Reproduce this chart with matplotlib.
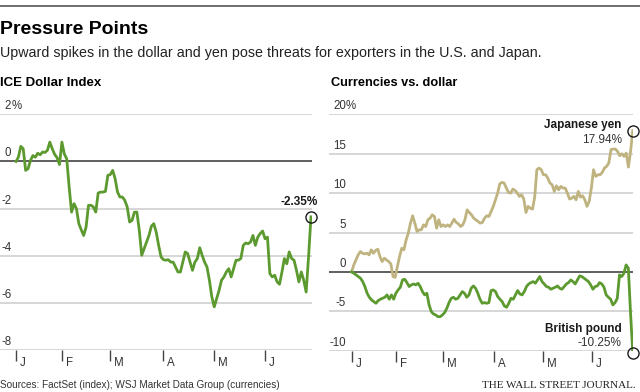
import matplotlib
matplotlib.use("Agg")
import matplotlib.pyplot as plt
import matplotlib.transforms as mtransforms
from matplotlib.lines import Line2D
import numpy as np

plt.rcParams['font.family'] = ['Liberation Sans', 'DejaVu Sans']

# month markers, as trading-day index from the start of the year
month_labels = ['J', 'F', 'M', 'A', 'M', 'J']
month_starts = [0, 19, 39, 61, 82, 103]

# ICE Dollar Index, % change since Jan 1
dollar_index = [
    0, 0.18, 0.64, 0.54, -0.38, -0.31, 0.04, 0.25, 0.18, 0.35, 0.28, 0.40, 0.38, 0.47,
    0.82, 0.54, 0.30, 0.16, -0.13, 0.82, 0.32, 0.11, -1.09, -2.15, -1.79, -2.0, -2.64,
    -2.9, -3.14, -2.78, -1.86, -1.86, -1.93, -2.15, -1.34, -1.30, -1.30, -1.27, -0.59,
    -0.56, -0.38, -0.73, -1.30, -1.51, -1.51, -1.65, -1.93, -2.57, -2.5, -2.15, -2.15,
    -2.92, -3.98, -3.70, -3.42, -3.14, -2.75, -2.64, -3.0, -3.56, -4.05, -4.17, -4.19,
    -4.17, -4.27, -4.27, -4.48, -4.69, -4.69, -4.27, -3.84, -3.91, -4.27, -4.62, -4.27,
    -4.12, -3.66, -3.98, -4.27, -4.48, -5.04, -5.75, -6.17, -5.82, -5.47, -5.04, -4.9,
    -4.69, -4.55, -4.9, -4.55, -4.19, -4.19, -4.12, -3.56, -3.46, -3.49, -3.42, -3.14,
    -3.56, -3.21, -3.06, -2.95, -3.28, -3.21, -4.76, -4.9, -4.83, -5.11, -5.21, -4.69,
    -4.12, -4.34, -3.84, -4.12, -4.19, -4.62, -5.11, -4.69, -5.04, -5.54, -4.05, -2.35,
]

# currencies vs. dollar, % change since Jan 1
yen = [
    0, 0.89, 1.53, 2.16, 2.58, 2.37, 2.29, 2.37, 2.16, 2.8, 2.37, 2.71, 2.88, 1.95, 1.31,
    1.74, 1.53, 1.31, 1.02, -0.59, -0.68, 0.68, 1.95, 3.0, 2.8, 4.07, 4.9, 6.19, 7.12,
    6.19, 5.13, 5.34, 5.34, 5.97, 5.76, 6.61, 6.82, 7.25, 7.03, 5.55, 6.61, 5.76, 5.97,
    5.76, 5.97, 5.76, 6.19, 6.69, 6.27, 6.1, 5.76, 5.97, 6.61, 7.88, 7.54, 7.25, 6.82,
    6.61, 6.4, 6.19, 6.27, 6.82, 7.12, 7.03, 7.67, 8.31, 9.15, 10.0, 11.19, 11.36, 11.27,
    10.64, 10.08, 10.0, 10.51, 10.34, 10.0, 9.58, 9.79, 9.24, 7.54, 8.31, 8.09, 7.97,
    9.49, 12.97, 13.18, 12.97, 12.33, 12.33, 11.91, 11.27, 11.06, 10.21, 10.93, 10.42,
    10.85, 10.64, 10.64, 10.0, 9.24, 9.36, 9.58, 9.15, 10.21, 9.49, 9.66, 9.15, 8.31,
    8.94, 10.64, 12.97, 12.12, 12.33, 12.33, 12.63, 13.18, 13.39, 13.81, 15.51, 15.59,
    15.59, 15.3, 14.75, 15.0, 14.66, 15.08, 13.31, 15.3, 17.94,
]
pound = [
    0, -0.17, -0.38, -0.59, -0.8, -1.23, -1.86, -2.71, -3.22, -3.56, -3.77, -3.98, -3.64,
    -3.47, -3.35, -3.22, -2.92, -3.47, -2.92, -3.47, -2.71, -2.29, -1.95, -1.02, -0.93,
    -1.36, -1.86, -1.65, -1.53, -1.65, -1.44, -1.86, -2.5, -2.92, -2.71, -4.19, -5.04,
    -5.34, -5.47, -5.68, -5.68, -5.47, -5.17, -4.62, -3.9, -3.35, -3.22, -3.47, -3.35,
    -2.92, -2.5, -2.71, -3.22, -2.92, -2.08, -1.78, -2.08, -2.71, -3.47, -3.98, -3.9,
    -3.98, -3.9, -2.37, -2.29, -2.5, -3.14, -3.47, -3.77, -4.32, -4.49, -3.98, -3.35,
    -3.47, -2.92, -2.37, -2.8, -2.92, -2.5, -1.86, -1.53, -1.36, -1.23, -1.44, -1.02,
    -0.59, -1.23, -1.53, -1.86, -1.95, -2.2, -2.08, -1.95, -1.78, -2.08, -2.2, -1.86,
    -1.53, -1.36, -1.02, -1.23, -1.53, -1.02, -0.51, -0.59, -0.8, -1.02, -1.23, -1.65,
    -2.2, -1.86, -1.78, -1.36, -1.53, -1.95, -2.92, -3.22, -3.47, -4.19, -3.9, -3.35,
    -0.38, -0.59, -0.17, 0.89, 0.47, -5.25, -10.25,
]

left_ticks = [2, 0, -2, -4, -6, -8]
right_ticks = [20, 15, 10, 5, 0, -5, -10]

GREEN = '#5c9a30'
TAN = '#bfb37f'
GRID = '#d0d0d0'
INK = '#1a1a1a'

W, H = 640, 392
fig = plt.figure(figsize=(W / 100, H / 100), dpi=100)


def px_axes(x0, y_top, x1, y_bot):
    return fig.add_axes([x0 / W, 1 - y_bot / H, (x1 - x0) / W, (y_bot - y_top) / H])


def style_panel(ax, ticks, label_right, pct_first=True):
    for s in ax.spines.values():
        s.set_visible(False)
    for v in ticks:
        ax.axhline(v, color='#333' if v == 0 else GRID, lw=1.1 if v == 0 else 1.2, zorder=1)
    ax.set_yticks([])
    ax.set_xticks(month_starts)
    ax.tick_params(axis='x', length=8, width=1, color='#444', labelbottom=False)
    tr = mtransforms.blended_transform_factory(ax.transAxes, ax.transData)
    off = mtransforms.ScaledTranslation(0, 2 / 100, fig.dpi_scale_trans)
    for i, v in enumerate(ticks):
        ax.text(label_right, v, str(v), transform=tr + off, ha='right', va='bottom',
                fontsize=8.3, color='#333')
        if i == 0 and pct_first:
            ax.text(label_right, v, '%', transform=tr + off, ha='left', va='bottom',
                    fontsize=8.3, color='#333')
    trm = mtransforms.blended_transform_factory(ax.transData, ax.transAxes)
    offm = mtransforms.ScaledTranslation(4 / 100, -13 / 100, fig.dpi_scale_trans)
    for lab, d in zip(month_labels, month_starts):
        ax.text(d, 0, lab, transform=trm + offm, ha='left', va='center',
                fontsize=8.3, color='#333')


# left panel: ICE Dollar Index
ax1 = px_axes(0, 114.3, 311.7, 350)
x1 = np.linspace(0, 122, len(dollar_index))
ax1.plot(x1, dollar_index, color=GREEN, lw=2.0, zorder=3)
ax1.set_xlim(-6.6, 122.3)
ax1.set_ylim(-8, 2)
style_panel(ax1, left_ticks, 11.3 / 311.7)
ax1.plot(x1[-1], dollar_index[-1], 'o', ms=8, mfc='none', mec=INK, mew=1.0,
         clip_on=False, zorder=4)
ax1.annotate(f'{dollar_index[-1]:.2f}%', (x1[-1], dollar_index[-1]), xytext=(-12, 15),
             textcoords='offset pixels', ha='center', va='center', fontsize=8.5,
             fontweight='bold', color=INK, annotation_clip=False)

# right panel: currencies vs. dollar
ax2 = px_axes(329, 114.3, 633, 350.7)
xy = np.linspace(0, 120.6, len(yen))
xp = np.linspace(0, 120.6, len(pound))
ax2.plot(xy, yen, color=TAN, lw=2.0, zorder=3)
ax2.plot(xp, pound, color=GREEN, lw=2.0, zorder=3)
ax2.set_xlim(-9.7, 120.7)
ax2.set_ylim(-10, 20)
style_panel(ax2, right_ticks, 17 / 304)
for xs, ys, name, dy in [(xy, yen, 'Japanese yen', 5.5), (xp, pound, 'British pound', 24)]:
    ax2.plot(xs[-1], ys[-1], 'o', ms=8, mfc='none', mec=INK, mew=1.0,
             clip_on=False, zorder=4)
    ax2.annotate(name, (xs[-1], ys[-1]), xytext=(-11, dy), textcoords='offset pixels',
                 ha='right', va='center', fontsize=8.5, fontweight='bold', color=INK,
                 annotation_clip=False)
    ax2.annotate(f'{ys[-1]:.2f}%', (xs[-1], ys[-1]), xytext=(-11, dy - 14.5),
                 textcoords='offset pixels', ha='right', va='center', fontsize=8.5,
                 color='#333', annotation_clip=False)

# headings and notes
fig.add_artist(Line2D([0, 1], [1 - 6 / H] * 2, transform=fig.transFigure,
                      color='#555', lw=1.2))
fig.text(0, 1 - 34.3 / H, 'Pressure Points', fontsize=14, fontweight='bold',
         va='baseline', color='black')
fig.text(0, 1 - 56.7 / H,
         'Upward spikes in the dollar and yen pose threats for exporters in the U.S. and Japan.',
         fontsize=10.3, va='baseline', color='#222')
fig.text(0, 1 - 86 / H, 'ICE Dollar Index', fontsize=9.5, fontweight='bold',
         va='baseline', color='black')
fig.text(331 / W, 1 - 86 / H, 'Currencies vs. dollar', fontsize=9.2, fontweight='bold',
         va='baseline', color='black')
fig.text(0, 1 - 388.5 / H, 'Sources: FactSet (index); WSJ Market Data Group (currencies)',
         fontsize=7.2, va='baseline', color='#333')
fig.text(636 / W, 1 - 388.5 / H, 'THE WALL STREET JOURNAL.', fontsize=8,
         family=['Liberation Serif', 'DejaVu Serif'], ha='right', va='baseline',
         color='#222')

fig.savefig('out.png', dpi=100)
